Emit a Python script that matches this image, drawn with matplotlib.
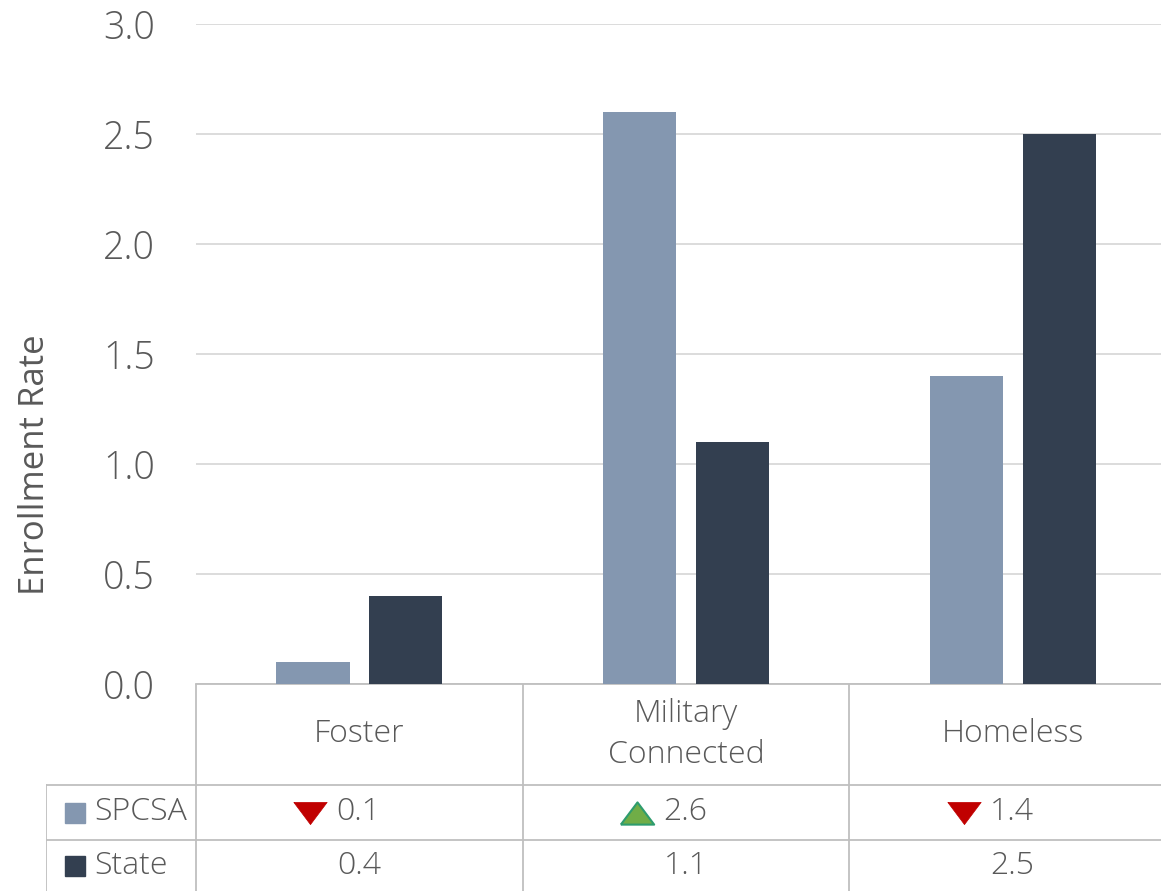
import matplotlib

matplotlib.use("Agg")
import matplotlib.pyplot as plt
from matplotlib.patches import Rectangle

categories = ["Foster", "Military\nConnected", "Homeless"]
series_names = ["SPCSA", "State"]
spcsa = [0.1, 2.6, 1.4]
state = [0.4, 1.1, 2.5]
# trend marker shown next to SPCSA value in the table
spcsa_trend = ["down", "up", "down"]
yticks = [0.0, 0.5, 1.0, 1.5, 2.0, 2.5, 3.0]

C_SPCSA = "#8497B0"
C_STATE = "#333F50"
C_TEXT = "#595959"
C_GRID = "#D9D9D9"
C_TABLE = "#BFBFBF"

plt.rcParams["font.family"] = ["Open Sans", "DejaVu Sans"]
plt.rcParams["font.weight"] = "light"

W, H = 1161, 891
fig = plt.figure(figsize=(W / 100, H / 100), dpi=100)

# pixel geometry
x0, xcat = 196, 326.7
y_zero, y_top = 684, 24
ax = fig.add_axes([x0 / W, (H - y_zero) / H, 3 * xcat / W, (y_zero - y_top) / H])

w, off = 0.224, 0.142
xs = range(len(categories))
ax.bar([x - off for x in xs], spcsa, width=w, color=C_SPCSA, zorder=3)
ax.bar([x + off for x in xs], state, width=w, color=C_STATE, zorder=3)
ax.set_xlim(-0.5, 2.5)
ax.set_ylim(0, 3.0)
ax.set_yticks(yticks)
ax.set_yticklabels([f"{v:.1f}" for v in yticks], fontsize=27, color=C_TEXT)
ax.tick_params(axis="y", length=0, pad=29.5)
ax.set_xticks([])
ax.grid(axis="y", color=C_GRID, lw=1.3, zorder=0)
for s in ["top", "right", "left"]:
    ax.spines[s].set_visible(False)
ax.spines["bottom"].set_color(C_TABLE)
ax.spines["bottom"].set_linewidth(1.3)
ax.set_ylabel("Enrollment Rate", fontsize=25, color=C_TEXT)
ax.yaxis.set_label_coords(-(x0 - 52) / (3 * xcat), 0.5 - (465 - 354) / (y_zero - y_top))

# data table below the plot
tl = 46
tax = fig.add_axes([tl / W, 0, (x0 + 3 * xcat - tl) / W, (H - y_zero) / H])
left_u = -0.5 - (x0 - tl) / xcat
tax.set_xlim(left_u, 2.5)
tax.set_ylim(0, H - y_zero)
tax.axis("off")
r_head, r_mid = H - 785, H - 840  # 106, 51
lk = dict(color=C_TABLE, lw=1.3)
tax.plot([left_u, 2.5], [r_head, r_head], **lk)
tax.plot([left_u, 2.5], [r_mid, r_mid], **lk)
tax.plot([left_u, left_u], [0, r_head], **lk)
for b in [-0.5, 0.5, 1.5]:
    tax.plot([b, b], [0, H - y_zero], **lk)

# flattened triangles like the Excel icon set
tri_down = [(-1.5, 1), (1.5, 1), (0, -1), (-1.5, 1)]
tri_up = [(-1.5, -1), (1.5, -1), (0, 1), (-1.5, -1)]

fs = 23
for i, cat in enumerate(categories):
    tax.text(i, (r_head + H - y_zero) / 2, cat, ha="center", va="center",
             fontsize=fs, color=C_TEXT, linespacing=1.35)
    tax.text(i - 23 / xcat, (r_head + r_mid) / 2, f"{spcsa[i]:.1f}", ha="left",
             va="center", fontsize=fs, color=C_TEXT)
    tax.text(i, r_mid / 2, f"{state[i]:.1f}", ha="center", va="center",
             fontsize=fs, color=C_TEXT)
    yc = (r_head + r_mid) / 2
    if spcsa_trend[i] == "down":
        tax.plot(i - 49 / xcat, yc, marker=tri_down, ms=24,
                 color="#C00000", mec="#C00000", mew=0.5)
    else:
        tax.plot(i - 49 / xcat, yc, marker=tri_up, ms=24,
                 color="#70AD47", mec="#2E9C6E", mew=1.5)

sq = 20 / xcat
for name, col, yc in [(series_names[0], C_SPCSA, (r_head + r_mid) / 2),
                      (series_names[1], C_STATE, r_mid / 2)]:
    tax.add_patch(Rectangle((left_u + 19 / xcat, yc - 10), sq, 20, color=col))
    tax.text(left_u + 48 / xcat, yc, name, ha="left", va="center",
             fontsize=fs, color=C_TEXT)

fig.savefig("out.png", dpi=100)
